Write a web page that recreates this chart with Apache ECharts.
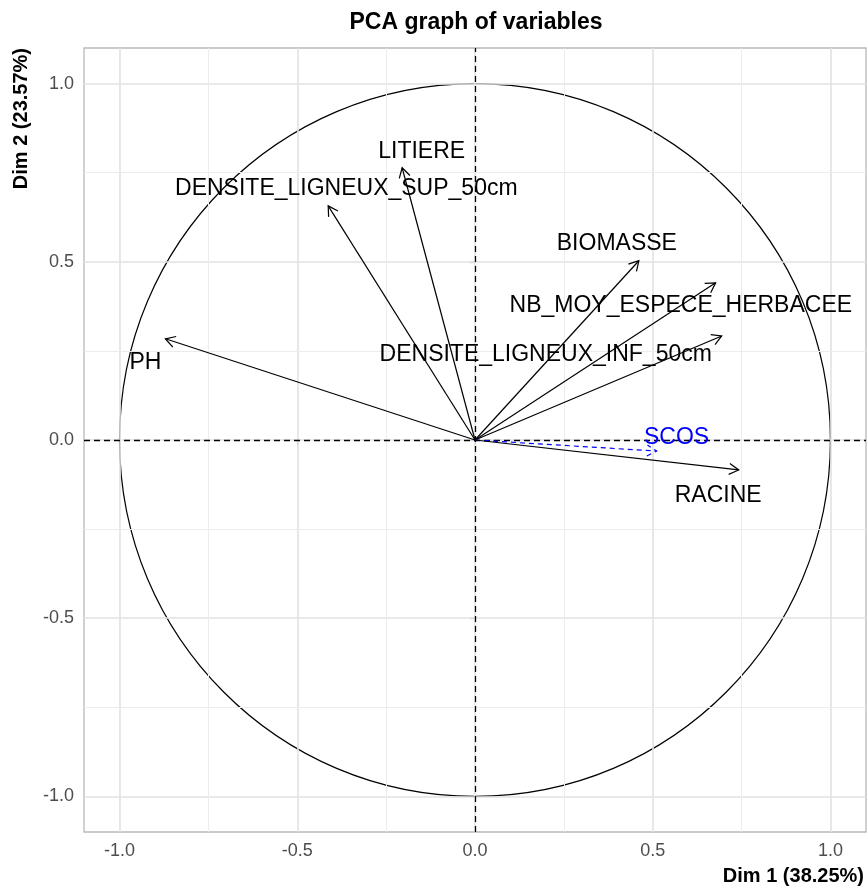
<!DOCTYPE html>
<html>
<head>
<meta charset="utf-8">
<script src="https://cdn.jsdelivr.net/npm/echarts@6/dist/echarts.min.js"></script>
<style>
html,body{margin:0;padding:0;background:#fff;}
#chart{width:868px;height:888px;}
</style>
</head>
<body>
<div id="chart"></div>
<script>
// ---- data ----
const variables = ['LITIERE','DENSITE_LIGNEUX_SUP_50cm','BIOMASSE','NB_MOY_ESPECE_HERBACEE','DENSITE_LIGNEUX_INF_50cm','PH','SCOS','RACINE'];
const dim1 = [-0.205, -0.413, 0.461, 0.677, 0.694, -0.871, 0.511, 0.742];
const dim2 = [0.764, 0.657, 0.503, 0.441, 0.292, 0.284, -0.031, -0.084];
const labelDim1 = [-0.150, -0.362, 0.399, 0.579, 0.199, -0.927, 0.567, 0.684];
const labelDim2 = [0.815, 0.711, 0.559, 0.385, 0.247, 0.225, 0.014, -0.149];
const supplementary = ['SCOS'];
const tickValues = [-1.0, -0.5, 0.0, 0.5, 1.0];
const minorValues = [-0.75, -0.25, 0.25, 0.75];
const axisRange = [-1.1, 1.1];
const circleRadius = 1;
const titleText = 'PCA graph of variables';
const xTitle = 'Dim 1 (38.25%)';
const yTitle = 'Dim 2 (23.57%)';

const FONT = '"Liberation Sans", Arial, Helvetica, sans-serif';
const chart = echarts.init(document.getElementById('chart'), null, {renderer:'canvas'});

const GRID = {left:84, right:2, top:48, bottom:56};

function axisCommon(){
  return {
    type:'value', min:axisRange[0], max:axisRange[1],
    axisLine:{show:false},
    splitLine:{show:false},
    axisTick:{show:true, length:5, customValues:tickValues, lineStyle:{color:'#b3b3b3', width:1.2}},
    axisLabel:{show:true, customValues:tickValues, margin:10, color:'#4d4d4d', fontFamily:FONT, fontSize:18,
      formatter:v => (Math.abs(v) < 1e-9 ? 0 : v).toFixed(1)}
  };
}

const gridMarks = [];
tickValues.forEach(v => { gridMarks.push({xAxis:v, lineStyle:{color:'#e2e2e2', width:1.6, type:'solid'}}); gridMarks.push({yAxis:v, lineStyle:{color:'#e2e2e2', width:1.6, type:'solid'}}); });
minorValues.forEach(v => { gridMarks.push({xAxis:v, lineStyle:{color:'#ececec', width:1, type:'solid'}}); gridMarks.push({yAxis:v, lineStyle:{color:'#ececec', width:1, type:'solid'}}); });

const arrowData = variables.map((n,i) => ({name:n, value:[dim1[i], dim2[i], i]}));
const labelData = variables.map((n,i) => ({name:n, value:[labelDim1[i], labelDim2[i], i]}));

const option = {
  animation:false,
  backgroundColor:'#ffffff',
  grid:{left:GRID.left, right:GRID.right, top:GRID.top, bottom:GRID.bottom, show:true, borderColor:'#b8b8b8', borderWidth:1.3, backgroundColor:'transparent'},
  xAxis: axisCommon(),
  yAxis: axisCommon(),
  graphic:[
    {type:'text', x: 476, y: 11, style:{text:titleText, font:'bold 23px '+FONT, fill:'#000', textAlign:'center', textVerticalAlign:'top'}},
    {type:'text', right: 4, top: 866, style:{text:xTitle, font:'bold 20px '+FONT, fill:'#000'}},
    {type:'text', left: 11, top: 48, rotation: Math.PI/2, style:{text:yTitle, font:'bold 20px '+FONT, fill:'#000', textAlign:'right', textVerticalAlign:'top'}}
  ],
  series:[
    {type:'line', data:[], z:1, silent:true,
      markLine:{silent:true, symbol:['none','none'], label:{show:false}, animation:false, data:gridMarks}},
    {type:'line', data:[], z:3, silent:true,
      markLine:{silent:true, symbol:['none','none'], label:{show:false}, animation:false,
        lineStyle:{color:'#000', width:1.3, type:[6,4]},
        data:[{xAxis:0},{yAxis:0}]}},
    {type:'custom', z:4, silent:true, data:[[0,0,circleRadius]],
      renderItem:(params, api) => {
        const c = api.coord([api.value(0), api.value(1)]);
        const s = api.size([api.value(2), api.value(2)]);
        return {type:'ellipse', shape:{cx:c[0], cy:c[1], rx:s[0], ry:s[1]}, style:{stroke:'#000', fill:null, lineWidth:1.2}};
      }},
    {type:'custom', z:5, silent:true, data:arrowData,
      renderItem:(params, api) => {
        const i = api.value(2);
        const sup = supplementary.includes(variables[i]);
        const color = sup ? '#0000ff' : '#000000';
        const dash = sup ? [5,4] : null;
        const o = api.coord([0,0]);
        const p = api.coord([api.value(0), api.value(1)]);
        const ang = Math.atan2(p[1]-o[1], p[0]-o[0]);
        const L = 11, a = Math.PI/6;
        const h1 = [p[0]-L*Math.cos(ang-a), p[1]-L*Math.sin(ang-a)];
        const h2 = [p[0]-L*Math.cos(ang+a), p[1]-L*Math.sin(ang+a)];
        return {type:'group', children:[
          {type:'line', shape:{x1:o[0], y1:o[1], x2:p[0], y2:p[1]}, style:{stroke:color, lineWidth:1.2, lineDash:dash}},
          {type:'polyline', shape:{points:[h1,p,h2]}, style:{stroke:color, fill:null, lineWidth:1.2, lineDash:dash}}
        ]};
      }},
    {type:'custom', z:6, silent:true, data:labelData,
      renderItem:(params, api) => {
        const i = api.value(2);
        const sup = supplementary.includes(variables[i]);
        const p = api.coord([api.value(0), api.value(1)]);
        return {type:'text', x:p[0], y:p[1] + 2.5, style:{text:variables[i], font:'23px '+FONT, fill: sup ? '#0000ff' : '#000000', textAlign:'center', textVerticalAlign:'middle'}};
      }}
  ]
};
chart.setOption(option);
</script>
</body>
</html>
